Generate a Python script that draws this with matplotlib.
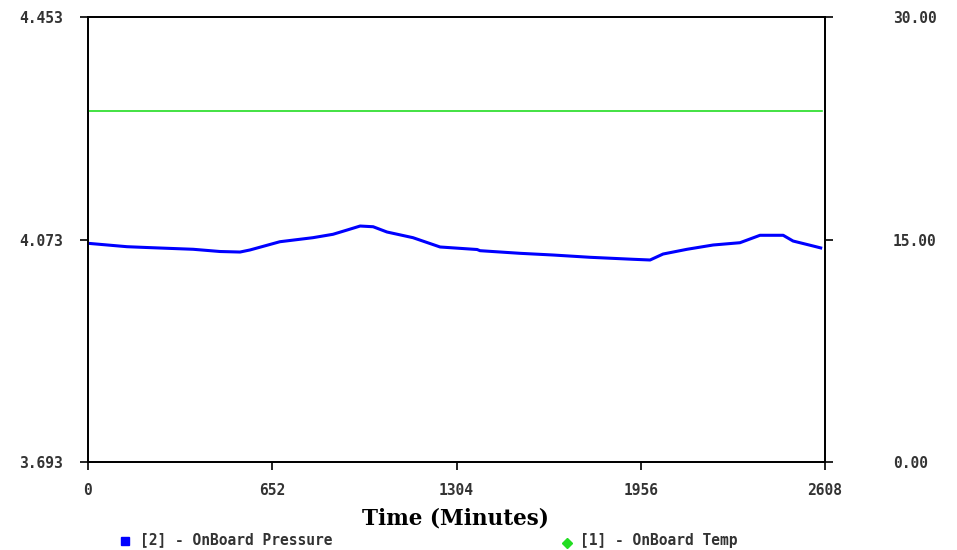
import matplotlib
matplotlib.use("Agg")
import matplotlib.pyplot as plt
from matplotlib.lines import Line2D

# ---- data ----
time_min = [0, 138, 209, 372, 467, 538, 573, 679, 796, 867, 917, 963, 1009, 1058,
            1150, 1246, 1377, 1387, 1529, 1646, 1777, 1929, 1989, 2035, 2120, 2212,
            2307, 2378, 2460, 2495, 2566, 2598]
pressure = [4.0665, 4.0607, 4.0593, 4.0563, 4.0525, 4.0516, 4.0551, 4.0692, 4.0761,
            4.0819, 4.0892, 4.0960, 4.0948, 4.0858, 4.0761, 4.0602, 4.0559, 4.0539,
            4.0494, 4.0465, 4.0426, 4.0392, 4.0380, 4.0482, 4.0563, 4.0636, 4.0675,
            4.0802, 4.0802, 4.0704, 4.0619, 4.0580]
temp_time = [0, 2598]
temp = [23.66, 23.66]

x_ticks = [0, 652, 1304, 1956, 2608]
left_ticks = [3.693, 4.073, 4.453]
left_labels = ["3.693", "4.073", "4.453"]
right_ticks = [0, 15, 30]
right_labels = ["0.00", "15.00", "30.00"]
series_names = ["[2] - OnBoard Pressure", "[1] - OnBoard Temp"]
xlabel = "Time (Minutes)"

W, H = 957, 550
fig = plt.figure(figsize=(W / 100, H / 100), dpi=100)
ax = fig.add_axes([88 / W, 1 - 462 / H, (825 - 88) / W, (462 - 17) / H])
ax2 = ax.twinx()

ax.plot(time_min, pressure, color="#0000ff", lw=2.2, solid_capstyle="butt")
ax2.plot(temp_time, temp, color="#22dd22", lw=1.2)

ax.set_xlim(0, 2608)
ax.set_ylim(3.693, 4.453)
ax2.set_ylim(0, 30)

tickfont = dict(family="DejaVu Sans Mono", size=10.5, weight="bold")
ax.set_xticks(x_ticks)
ax.set_xticklabels([str(v) for v in x_ticks], color="#333333", **tickfont)
ax.set_yticks(left_ticks)
ax.set_yticklabels(left_labels, color="#333333", **tickfont)
ax2.set_yticks(right_ticks)
ax2.set_yticklabels(right_labels, color="#333333", **tickfont)

ax.tick_params(axis="x", direction="out", length=6, width=1.2, pad=9, color="black")
ax.tick_params(axis="y", direction="out", length=6, width=1.2, pad=12, color="black")
ax2.tick_params(axis="y", direction="out", length=6, width=1.2, pad=43, color="black")
for a in (ax, ax2):
    for s in a.spines.values():
        s.set_linewidth(1.3)
        s.set_color("black")

fig.text(455 / W, 1 - 518 / H, xlabel, ha="center", va="center",
         family="DejaVu Serif", weight="bold", size=15.5)

# legend
fig.add_artist(Line2D([125 / W], [1 - 541 / H], marker="s", color="#0000ff",
                      markersize=6, linestyle="none", transform=fig.transFigure))
fig.text(140 / W, 1 - 540 / H, series_names[0], ha="left", va="center",
         color="#333333", **tickfont)
fig.add_artist(Line2D([567 / W], [1 - 543 / H], marker="D", color="#22dd22",
                      markersize=5, linestyle="none", transform=fig.transFigure))
fig.text(580 / W, 1 - 541 / H, series_names[1], ha="left", va="center",
         color="#333333", **tickfont)

fig.savefig("out.png", dpi=100)
